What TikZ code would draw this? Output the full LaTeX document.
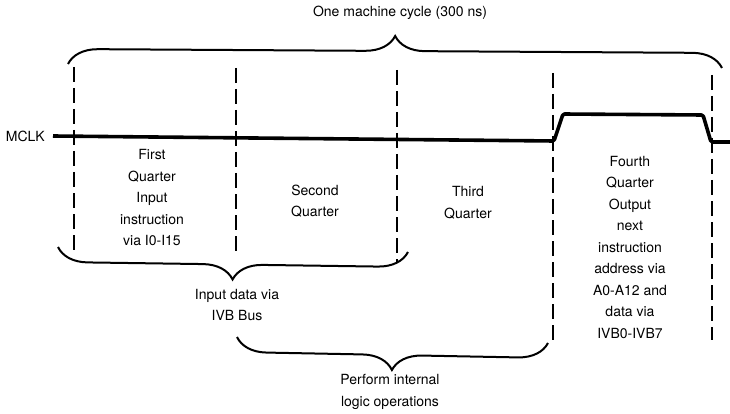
\documentclass[tikz,border=0pt]{standalone}
\usepackage{fontspec}
\setmainfont{TeX Gyre Heros}
\usetikzlibrary{decorations.pathreplacing, positioning, calc}

\begin{document}
\begin{tikzpicture}[
  x=1pt, y=-1pt,
  font=\fontsize{14}{21.5}\selectfont,
  every node/.style={align=center, inner sep=2pt},
  clk/.style={line width=3.6pt, line join=round, rounded corners=1.5pt},
  qline/.style={line width=2.2pt, dash pattern=on 15pt off 6pt},
  bracetop/.style={line width=2pt, decorate, decoration={brace, amplitude=30pt}},
  bracebot/.style={line width=2pt, decorate, decoration={brace, mirror, amplitude=30pt}},
]
\useasboundingbox (0,0) rectangle (730,414);

% ---------- quarter boundaries (dashed) ----------
\foreach \name/\x/\ya/\yb in {b0/74/67/252, b1/236/68/252, b2/397/70/263,
                              b3/553/73/342, b4/712/75/340} {
  \coordinate (\name-t) at (\x,\ya);
  \coordinate (\name-b) at (\x,\yb);
  \draw[qline] (\name-t) -- (\name-b);
}

% ---------- MCLK waveform ----------
\coordinate (clk0) at (53,136);
\coordinate (rise0) at (554,141);
\coordinate (rise1) at (563,114);
\coordinate (fall0) at (703,115);
\coordinate (fall1) at (711,142);
\coordinate (clk1) at (730,142);
\draw[clk] (clk0) -- (rise0) -- (rise1) -- (fall0) -- (fall1) -- (clk1);
\node[left=6pt of clk0] (mclk) {MCLK};

% ---------- machine cycle brace ----------
\coordinate (cyc-l) at (68,64);
\coordinate (cyc-r) at (722,68);
\draw[bracetop] (cyc-l) -- (cyc-r);
\node (cycle) at (400,13) {One machine cycle (300 ns)};

% ---------- quarter labels ----------
\node (first)  at (152,198) {First\\ Quarter\\ Input\\ instruction\\ via I0-I15};
\node (second) at (315,201) {Second\\ Quarter};
\node (third)  at (468,203) {Third\\ Quarter};
\node (fourth) at (630,247) {Fourth\\ Quarter\\ Output\\ next\\ instruction\\
                             address via\\ A0-A12 and\\ data via\\ IVB0-IVB7};

% ---------- lower braces ----------
\coordinate (in-l) at (58,247);
\coordinate (in-r) at (408,252);
\draw[bracebot] (in-l) -- (in-r);
\node (inbus) at (237,305) {Input data via\\ IVB Bus};

\coordinate (op-l) at (237,337);
\coordinate (op-r) at (548,343);
\draw[bracebot] (op-l) -- (op-r);
\node (logic) at (390,392) {Perform internal\\ logic operations};

\end{tikzpicture}
\end{document}
